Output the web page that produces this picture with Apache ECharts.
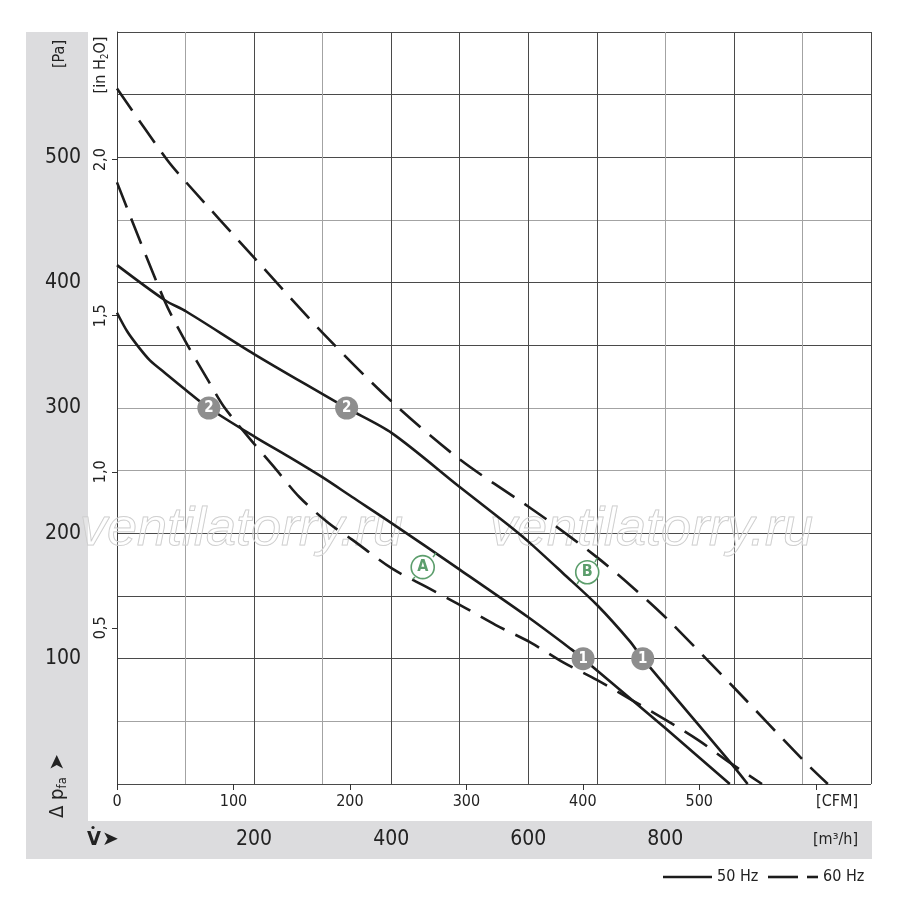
<!DOCTYPE html>
<html>
<head>
<meta charset="utf-8">
<script src="https://cdn.jsdelivr.net/npm/echarts@6/dist/echarts.min.js"></script>
<style>
html,body{margin:0;padding:0;background:#fff;}
#chart{width:900px;height:899px;}
</style>
</head>
<body>
<div id="chart"></div>
<script>
// ---- constants ----
const M3H_PER_CFM = 1.699;
const PA_PER_INH2O = 249.089;

// ---- axis labels / ticks ----
const m3hLabels = [200, 400, 600, 800];
const cfmTicks = [0, 100, 200, 300, 400, 500, 600];
const cfmLabels = [0, 100, 200, 300, 400, 500];
const paLabels = [100, 200, 300, 400, 500];
const inh2oTicks = [0.5, 1.0, 1.5, 2.0];

// ---- curves: [m3/h, Pa] ----
const curve50A = [[0,376],[15,361],[31,349],[48,338],[70,328],[99,315],[134,300],[201,277],[251,261],[299,245],[343,229],[401,208],[500,171],[600,133],[664,107],[680,100],[801,44],[894,0]];
const curve50B = [[0,414],[70,386],[101,377],[200,343],[300,311],[335,300],[401,280],[500,237],[570,207],[601,193],[651,168],[700,143],[748,114],[767,100],[895,17],[920,0]];
const curve60A = [[0,480],[69,386],[99,354],[134,321],[156,301],[193,276],[229,253],[266,229],[309,208],[343,195],[401,172],[452,157],[500,143],[552,127],[603,113],[651,97],[700,83],[751,67],[801,51],[848,35],[894,17],[941,0]];
const curve60B = [[0,555],[73,498],[101,480],[200,420],[300,360],[401,305],[500,259],[601,221],[627,211],[700,181],[748,159],[802,132],[900,77],[1001,19],[1037,0]];

// ---- operating points ----
const points1 = [[680,100],[767,100]];
const points2 = [[134,300],[335,300]];
const regionNames = ['A', 'B'];
const regionPos = [[446,173],[686,169]];
const regionLinks = [
  [[461,181],[465.4,184.3]], [[434.7,165.2],[431.8,163.6]],
  [[697.4,177.1],[700.3,180.3]], [[674,162],[671.1,159.6]]
];

const F = '"Liberation Sans Narrow","DejaVu Sans Condensed","Roboto Condensed","Liberation Sans",Arial,sans-serif';
const DARK = '#4a4a4a', LIGHT = '#a3a3a3';
const vColors = [DARK, LIGHT, DARK, LIGHT, DARK, DARK, DARK, DARK, LIGHT, DARK, LIGHT, DARK];
const hColors = [DARK, LIGHT, DARK, DARK, DARK, LIGHT, LIGHT, DARK, DARK, LIGHT, DARK, DARK, DARK];
const GREEN = '#5c9e6c';
const CURVE = '#1c1c1c';
const DASH = [27, 12];

const chart = echarts.init(document.getElementById('chart'), null, {renderer: 'canvas'});

function lineSeries(data, dashed) {
  return {
    type: 'line', data: data, xAxisIndex: 0, yAxisIndex: 0,
    symbol: 'none', smooth: 0.3, z: 3,
    lineStyle: {color: CURVE, width: 2.6, type: dashed ? DASH : 'solid', cap: 'butt', join: 'round'}
  };
}

const option = {
  animation: false,
  backgroundColor: '#fff',
  textStyle: {fontFamily: F},
  grid: {left: 117, top: 32, width: 754, height: 752, show: false},
  xAxis: [
    {
      type: 'value', min: 0, max: 1100, interval: 100, position: 'bottom',
      axisLine: {show: false}, axisTick: {show: false},
      splitLine: {show: true, showMinLine: true, showMaxLine: true, lineStyle: {color: vColors, width: 1}},
      axisLabel: {margin: 45, fontSize: 21, color: '#222', fontFamily: F, customValues: m3hLabels,
        formatter: v => m3hLabels.indexOf(v) >= 0 ? String(v) : ''}
    },
    {
      type: 'value', min: 0, max: 1100 / M3H_PER_CFM, interval: 100, position: 'bottom',
      axisLine: {show: false},
      axisTick: {show: true, length: 6, inside: false, customValues: cfmTicks, lineStyle: {color: '#333', width: 1}},
      splitLine: {show: false},
      axisLabel: {margin: 10, fontSize: 16, color: '#222', fontFamily: F, customValues: cfmLabels,
        formatter: v => cfmLabels.indexOf(Math.round(v)) >= 0 ? String(Math.round(v)) : ''}
    }
  ],
  yAxis: [
    {
      type: 'value', min: 0, max: 600, interval: 50, position: 'left',
      axisLine: {show: false}, axisTick: {show: false},
      splitLine: {show: true, showMinLine: true, showMaxLine: true, lineStyle: {color: hColors, width: 1}},
      axisLabel: {margin: 36, fontSize: 21, color: '#222', fontFamily: F, customValues: paLabels,
        formatter: v => paLabels.indexOf(v) >= 0 ? String(v) : ''}
    },
    {
      type: 'value', min: 0, max: 600 / PA_PER_INH2O, interval: 0.5, position: 'left',
      axisLine: {show: true, lineStyle: {color: '#3a3a3a', width: 1}},
      axisTick: {show: true, length: 5, inside: false, customValues: inh2oTicks, lineStyle: {color: '#333', width: 1}},
      splitLine: {show: false},
      axisLabel: {rotate: 90, margin: 8, fontSize: 16, color: '#222', fontFamily: F, customValues: inh2oTicks,
        formatter: v => (v > 0.01 && v < 2.2) ? v.toFixed(1).replace('.', ',') : ''}
    }
  ],
  series: [
    lineSeries(curve50A, false),
    lineSeries(curve50B, false),
    lineSeries(curve60A, true),
    lineSeries(curve60B, true),
    {
      type: 'lines', coordinateSystem: 'cartesian2d', xAxisIndex: 0, yAxisIndex: 0, z: 4,
      lineStyle: {color: GREEN, width: 1.5, opacity: 1},
      data: regionLinks.map(c => ({coords: c}))
    },
    {
      type: 'scatter', xAxisIndex: 0, yAxisIndex: 0, z: 5, symbol: 'circle', symbolSize: 23,
      itemStyle: {color: '#fff', borderColor: GREEN, borderWidth: 1.6, opacity: 1},
      label: {show: true, position: 'inside', color: GREEN, fontSize: 16, fontWeight: 'bold', fontFamily: F,
        formatter: p => regionNames[p.dataIndex]},
      data: regionPos
    },
    {
      type: 'scatter', xAxisIndex: 0, yAxisIndex: 0, z: 6, symbol: 'circle', symbolSize: 23,
      itemStyle: {color: '#8e8e8e', opacity: 1},
      label: {show: true, position: 'inside', color: '#fff', fontSize: 15, fontWeight: 'bold', fontFamily: F, formatter: '1'},
      data: points1
    },
    {
      type: 'scatter', xAxisIndex: 0, yAxisIndex: 0, z: 6, symbol: 'circle', symbolSize: 23,
      itemStyle: {color: '#8e8e8e', opacity: 1},
      label: {show: true, position: 'inside', color: '#fff', fontSize: 15, fontWeight: 'bold', fontFamily: F, formatter: '2'},
      data: points2
    }
  ],
  graphic: [
    {type: 'rect', z: -10, shape: {x: 26, y: 32, width: 62, height: 789}, style: {fill: '#dcdcde'}},
    {type: 'rect', z: -10, shape: {x: 26, y: 821, width: 846, height: 38}, style: {fill: '#dcdcde'}},
    // watermark
    {type: 'text', z: 1, x: 80, y: 530, style: {text: 'ventilatorry.ru', font: 'italic 54px "Liberation Sans",Arial,sans-serif',
      fill: 'rgba(255,255,255,0.25)', stroke: '#c9c9c9', lineWidth: 1, verticalAlign: 'middle', align: 'left'}},
    {type: 'text', z: 1, x: 490, y: 530, style: {text: 'ventilatorry.ru', font: 'italic 54px "Liberation Sans",Arial,sans-serif',
      fill: 'rgba(255,255,255,0.25)', stroke: '#c9c9c9', lineWidth: 1, verticalAlign: 'middle', align: 'left'}},
    // unit titles
    {type: 'text', z: 5, x: 60, y: 54, rotation: Math.PI / 2,
      style: {text: '[Pa]', font: '16px ' + F, fill: '#222', align: 'center', verticalAlign: 'middle'}},
    {type: 'text', z: 5, x: 101, y: 65, rotation: Math.PI / 2,
      style: {text: '{a|[in H}{s|2}{a|O]}', align: 'center', verticalAlign: 'middle',
        rich: {a: {fontFamily: F, fontSize: 16, fill: '#222', lineHeight: 18},
               s: {fontFamily: F, fontSize: 10, fill: '#222', lineHeight: 18, verticalAlign: 'bottom', padding: [8, 0, 0, 0]}}}},
    {type: 'text', z: 5, x: 58, y: 786, rotation: Math.PI / 2,
      style: {text: '{a|Δ p}{s|fa}{b| ➤}', align: 'center', verticalAlign: 'middle',
        rich: {a: {fontFamily: F, fontSize: 20, fill: '#222', lineHeight: 22},
               s: {fontFamily: F, fontSize: 13, fill: '#222', lineHeight: 22, verticalAlign: 'bottom', padding: [8, 0, 0, 0]},
               b: {fontFamily: '"DejaVu Sans",sans-serif', fontSize: 20, fill: '#222', lineHeight: 22}}}},
    {type: 'text', z: 5, x: 87, y: 840,
      style: {text: 'V', font: 'bold 20px ' + F, fill: '#222', align: 'left', verticalAlign: 'middle'}},
    {type: 'circle', z: 5, shape: {cx: 93, cy: 827.5, r: 1.6}, style: {fill: '#222'}},
    {type: 'text', z: 5, x: 102, y: 840,
      style: {text: '➤', font: '20px "DejaVu Sans",sans-serif', fill: '#222', align: 'left', verticalAlign: 'middle'}},
    {type: 'text', z: 5, x: 858, y: 802,
      style: {text: '[CFM]', font: '16px ' + F, fill: '#222', align: 'right', verticalAlign: 'middle'}},
    {type: 'text', z: 5, x: 858, y: 840,
      style: {text: '[m³/h]', font: '16px ' + F, fill: '#222', align: 'right', verticalAlign: 'middle'}},
    // legend
    {type: 'line', z: 5, shape: {x1: 663, y1: 877, x2: 712, y2: 877}, style: {stroke: CURVE, lineWidth: 2.6}},
    {type: 'text', z: 5, x: 717, y: 877, style: {text: '50 Hz', font: '16px ' + F, fill: '#222', align: 'left', verticalAlign: 'middle'}},
    {type: 'line', z: 5, shape: {x1: 768, y1: 877, x2: 798, y2: 877}, style: {stroke: CURVE, lineWidth: 2.6}},
    {type: 'line', z: 5, shape: {x1: 807, y1: 877, x2: 818, y2: 877}, style: {stroke: CURVE, lineWidth: 2.6}},
    {type: 'text', z: 5, x: 823, y: 877, style: {text: '60 Hz', font: '16px ' + F, fill: '#222', align: 'left', verticalAlign: 'middle'}}
  ]
};
chart.setOption(option);
</script>
</body>
</html>
